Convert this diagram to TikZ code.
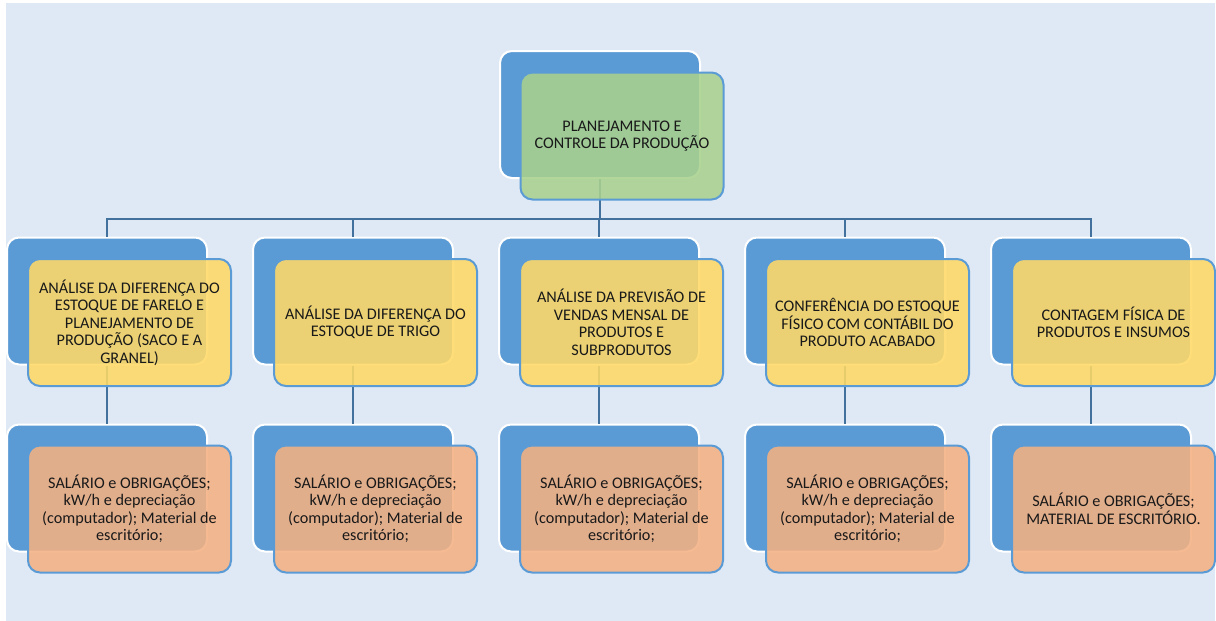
\documentclass[tikz,border=0pt]{standalone}
\usepackage{fontspec}
\setmainfont{Carlito}
\begin{document}
\begin{tikzpicture}[x=1pt,y=-1pt,
  backbox/.style={draw=white, line width=2pt, fill=accblue, rounded corners=12pt,
    minimum width=200pt, minimum height=127pt, inner sep=0pt},
  frontbox/.style={draw=accblue, line width=2pt, rounded corners=12pt, fill opacity=0.88,
    text opacity=1, minimum width=203pt, minimum height=127pt, inner sep=0pt,
    align=center, text=black!90, font=\fontsize{16.2pt}{17.5pt}\selectfont},
  greenbox/.style={frontbox, fill=accgreen},
  yellowbox/.style={frontbox, fill=accyellow},
  orangebox/.style={frontbox, fill=accorange},
  link/.style={draw=linkblue, line width=2.8pt}
]
\definecolor{accblue}{HTML}{5B9BD5}
\definecolor{accgreen}{HTML}{A9D18E}
\definecolor{accyellow}{HTML}{FFD966}
\definecolor{accorange}{HTML}{F4B183}
\definecolor{linkblue}{HTML}{41719C}
\definecolor{pagebg}{HTML}{DEE9F5}

\useasboundingbox (0,0) rectangle (1216,621);
\fill[pagebg] (6,3) rectangle (1215,621);

% back (blue) boxes
\node[backbox] (t0) at (600,114.5) {};
\foreach \i in {0,...,4} {
  \node[backbox] (m\i) at (107+246*\i,301) {};
  \node[backbox] (b\i) at (107+246*\i,488) {};
}

% connectors
\coordinate (bus) at (600,219);
\draw[link] (t0.south) -- (bus);
\foreach \i in {0,...,4} {
  \draw[link] (bus) -| (m\i.north);
  \draw[link] (m\i.south) -- (b\i.north);
}

% front boxes with the texts
\node[greenbox] (T) at (622,136) {PLANEJAMENTO E\\CONTROLE DA PRODUÇÃO};

\node[yellowbox] (M0) at (129.5,322.5) {ANÁLISE DA DIFERENÇA DO\\ESTOQUE DE FARELO E\\PLANEJAMENTO DE\\PRODUÇÃO (SACO E A\\GRANEL)};
\node[yellowbox] (M1) at (375.5,322.5) {ANÁLISE DA DIFERENÇA DO\\ESTOQUE DE TRIGO};
\node[yellowbox] (M2) at (621.5,322.5) {ANÁLISE DA PREVISÃO DE\\VENDAS MENSAL DE\\PRODUTOS E\\SUBPRODUTOS};
\node[yellowbox] (M3) at (867.5,322.5) {CONFERÊNCIA DO ESTOQUE\\FÍSICO COM CONTÁBIL DO\\PRODUTO ACABADO};
\node[yellowbox] (M4) at (1113.5,322.5) {CONTAGEM FÍSICA DE\\PRODUTOS E INSUMOS};

\foreach \i in {0,...,3} {
  \node[orangebox] (B\i) at (129.5+246*\i,509) {SALÁRIO e OBRIGAÇÕES;\\kW/h e depreciação\\(computador); Material de\\escritório;};
}
\node[orangebox] (B4) at (1113.5,509) {SALÁRIO e OBRIGAÇÕES;\\MATERIAL DE ESCRITÓRIO.};
\end{tikzpicture}
\end{document}
